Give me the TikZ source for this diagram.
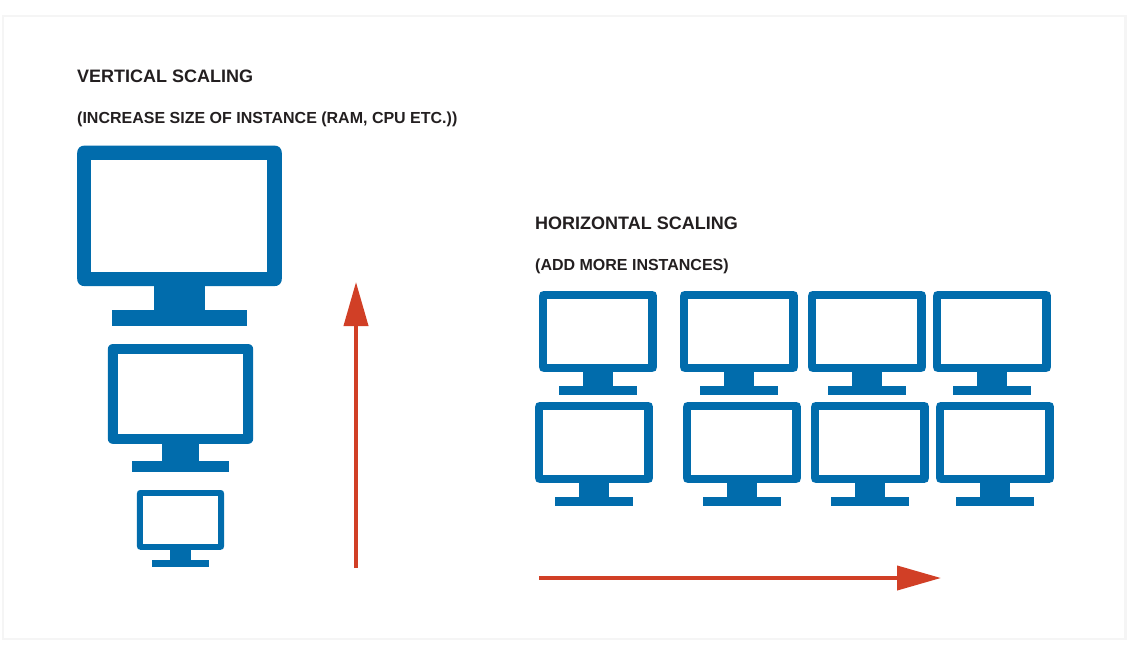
\documentclass[tikz,border=0pt]{standalone}
\usepackage{fontspec}
\setmainfont{Liberation Sans}
\usepackage{tikz}
\usetikzlibrary{arrows.meta}
\definecolor{MonitorBlue}{RGB}{1,108,172}
\definecolor{ArrowRed}{RGB}{209,63,38}
\definecolor{FrameGray}{RGB}{245,245,245}
\definecolor{TextDark}{RGB}{35,31,32}
\tikzset{
  pics/monitor/.style={code={
    \fill[MonitorBlue] (-94.4,0) -- (94.4,0) .. controls (99.5,0) and (102.4,2.9) .. (102.4,8)
      -- (102.4,132.7) .. controls (102.4,137.8) and (99.5,140.7) .. (94.4,140.7)
      -- (-94.4,140.7) .. controls (-99.5,140.7) and (-102.4,137.8) .. (-102.4,132.7)
      -- (-102.4,8) .. controls (-102.4,2.9) and (-99.5,0) .. (-94.4,0) -- cycle;
    \fill[white] (-88.2,14.7) rectangle (87.8,126.7);
    \fill[MonitorBlue] (-25.8,139) rectangle (25.8,165);
    \fill[MonitorBlue] (-67.8,164.7) rectangle (67.8,180.4);
  }},
  headline/.style={font=\bfseries\fontsize{18}{21}\selectfont, text=TextDark, anchor=base west, inner sep=0pt},
  subline/.style={font=\bfseries\fontsize{16}{19}\selectfont, text=TextDark, anchor=base west, inner sep=0pt},
  scalearrow/.style={-{Triangle[length=44pt, width=24pt]}, line width=4pt, ArrowRed}
}
\begin{document}
\begin{tikzpicture}[x=1pt, y=-1pt]
  \useasboundingbox (0,0) rectangle (1132,654);
  \draw[FrameGray, line width=2.5pt] (3,16) rectangle (1125.5,639);
  \node[headline] (vtitle) at (77,82) {VERTICAL SCALING};
  \node[subline] (vsub) at (77,123) {(INCREASE SIZE OF INSTANCE (RAM, CPU ETC.))};
  \node[headline] (htitle) at (535,229) {HORIZONTAL SCALING};
  \node[subline] (hsub) at (535,270) {(ADD MORE INSTANCES)};
  \pic at (179.5,145.5) {monitor};
  \pic[scale=0.71] at (180.5,344) {monitor};
  \pic[scale=0.425] at (180.5,490) {monitor};
  \foreach \px/\py in {598/291, 739/291, 867/291, 992/291, 594/402, 742/402, 870/402, 995/402}
    \pic[scale=0.575] at (\px,\py) {monitor};
  \coordinate (vstart) at (356,568);
  \coordinate (vend) at (356,282);
  \coordinate (hstart) at (539,578);
  \coordinate (hend) at (941,578);
  \draw[scalearrow] (vstart) -- (vend);
  \draw[scalearrow] (hstart) -- (hend);
\end{tikzpicture}
\end{document}
